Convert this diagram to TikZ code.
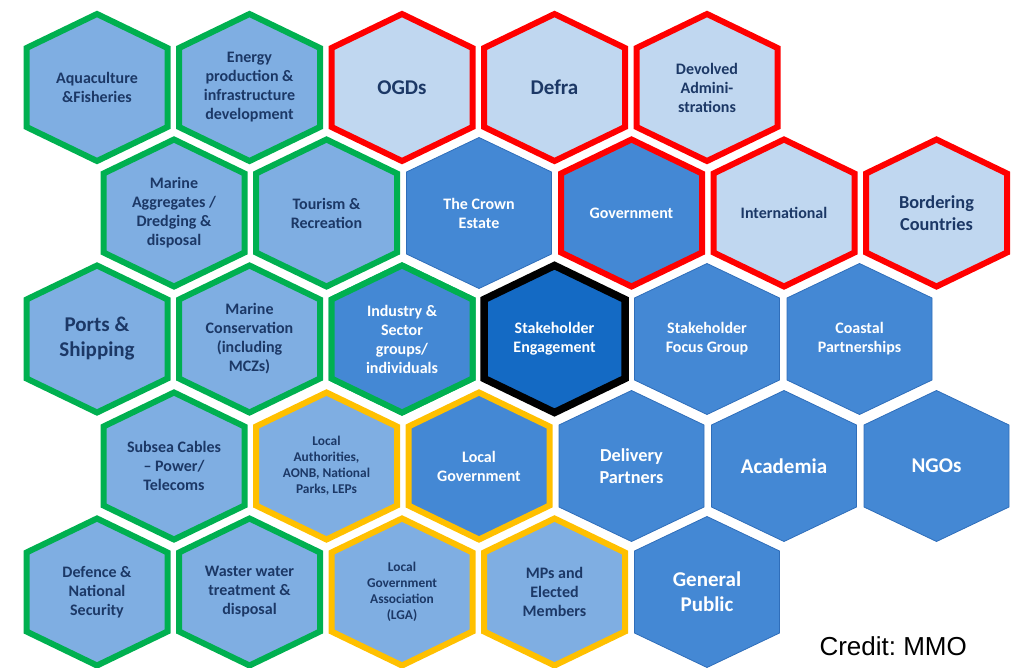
\documentclass[tikz,border=0pt]{standalone}
\usepackage{fontspec}
\setmainfont{Carlito}
\newfontfamily\creditfont{Liberation Sans}
\usetikzlibrary{backgrounds}
\frenchspacing

\definecolor{lightcell}{RGB}{127,174,226}
\definecolor{palecell}{RGB}{192,215,240}
\definecolor{midcell}{RGB}{68,136,212}
\definecolor{deepcell}{RGB}{20,106,196}
\definecolor{cellline}{RGB}{47,110,186}
\definecolor{ringgreen}{RGB}{0,176,80}
\definecolor{ringred}{RGB}{255,0,0}
\definecolor{ringgold}{RGB}{255,192,0}
\definecolor{inktext}{RGB}{28,56,102}

\begin{document}
\begin{tikzpicture}[
    x=1pt, y=-1pt,
    cell/.style={align=center, inner sep=0pt, font=\bfseries\fontsize{16}{19}\selectfont},
    darktext/.style={cell, text=inktext},
    whitetext/.style={cell, text=white},
    bigtext/.style={font=\bfseries\fontsize{21}{25}\selectfont},
    midtext/.style={font=\bfseries\fontsize{18.3}{22.5}\selectfont},
    smalltext/.style={font=\bfseries\fontsize{13.4}{16}\selectfont},
    greenring/.style={draw=ringgreen, line width=6pt},
    redring/.style={draw=ringred, line width=6pt},
    goldring/.style={draw=ringgold, line width=6pt},
    blackring/.style={draw=black, line width=7.5pt},
    thinline/.style={draw=cellline, line width=0.8pt},
    hexring/.pic={\path[pic actions] (0,-73.5) -- (70.5,-39.5) -- (70.5,39.5) -- (0,73.5) -- (-70.5,39.5) -- (-70.5,-39.5) -- cycle;},
    hexplain/.pic={\path[pic actions] (0,-75.5) -- (72.5,-41) -- (72.5,41) -- (0,75.5) -- (-72.5,41) -- (-72.5,-41) -- cycle;}
]
\useasboundingbox (0,0) rectangle (1015,667);

% Row 1
\node[darktext] (aqua) at (97,87.5) {Aquaculture\\\&Fisheries};
\node[darktext] (energy) at (249.5,87.5) {Energy\\production \&\\infrastructure\\development};
\node[darktext, bigtext] (ogds) at (402,87.5) {OGDs};
\node[darktext, bigtext] (defra) at (554.5,87.5) {Defra};
\node[darktext] (devolved) at (707,87.5) {Devolved\\Admini-\\strations};

% Row 2
\node[darktext] (aggregates) at (174,213) {Marine\\Aggregates /\\Dredging \&\\disposal};
\node[darktext] (tourism) at (326.5,213) {Tourism \&\\Recreation};
\node[whitetext] (crown) at (479,213) {The Crown\\Estate};
\node[whitetext] (govt) at (631.5,213) {Government};
\node[darktext] (intl) at (784,213) {International};
\node[darktext, midtext] (bordering) at (936.5,213) {Bordering\\Countries};

% Row 3
\node[darktext, bigtext] (ports) at (97,339) {Ports \&\\Shipping};
\node[darktext] (conservation) at (249.5,339) {Marine\\Conservation\\(including\\MCZs)};
\node[whitetext] (industry) at (402,339) {Industry \&\\Sector\\groups/\\individuals};
\node[whitetext] (engagement) at (554.5,339) {Stakeholder\\Engagement};
\node[whitetext] (focus) at (707,339) {Stakeholder\\Focus Group};
\node[whitetext] (coastal) at (859.5,339) {Coastal\\Partnerships};

% Row 4
\node[darktext] (subsea) at (174,466) {Subsea Cables\\– Power/\\Telecoms};
\node[darktext, smalltext] (authorities) at (326.5,466) {Local\\Authorities,\\AONB, National\\Parks, LEPs};
\node[whitetext] (localgovt) at (479,466) {Local\\Government};
\node[whitetext, midtext] (delivery) at (631.5,466) {Delivery\\Partners};
\node[whitetext, bigtext] (academia) at (784,466) {Academia};
\node[whitetext, bigtext] (ngos) at (936.5,466) {NGOs};

% Row 5
\node[darktext] (defence) at (97,592) {Defence \&\\National\\Security};
\node[darktext] (wastewater) at (249.5,592) {Waster water\\treatment \&\\disposal};
\node[darktext, smalltext] (lga) at (402,592) {Local\\Government\\Association\\(LGA)};
\node[darktext] (mps) at (554.5,592) {MPs and\\Elected\\Members};
\node[whitetext, bigtext] (public) at (707,592) {General\\Public};

\node[anchor=base west, font=\creditfont\fontsize{26}{30}\selectfont] (credit) at (816,655) {Credit: MMO};

% Hexagons behind the labels
\begin{scope}[on background layer]
  \foreach \n in {aqua, energy, aggregates, tourism, ports, conservation, industry, subsea, defence, wastewater}
    \pic[greenring, fill=lightcell] at (\n) {hexring};
  \foreach \n in {ogds, defra, devolved, intl, bordering}
    \pic[redring, fill=palecell] at (\n) {hexring};
  \foreach \n in {authorities, lga, mps}
    \pic[goldring, fill=lightcell] at (\n) {hexring};
  \foreach \n in {crown, focus, coastal, delivery, academia, ngos, public}
    \pic[thinline, fill=midcell] at (\n) {hexplain};
\end{scope}
\begin{scope}[on background layer]
  \pic[greenring, fill=midcell] at (industry) {hexring};
  \pic[redring, fill=midcell] at (govt) {hexring};
  \pic[goldring, fill=midcell] at (localgovt) {hexring};
  \pic[blackring, fill=deepcell] at (engagement) {hexring};
\end{scope}

\end{tikzpicture}
\end{document}
